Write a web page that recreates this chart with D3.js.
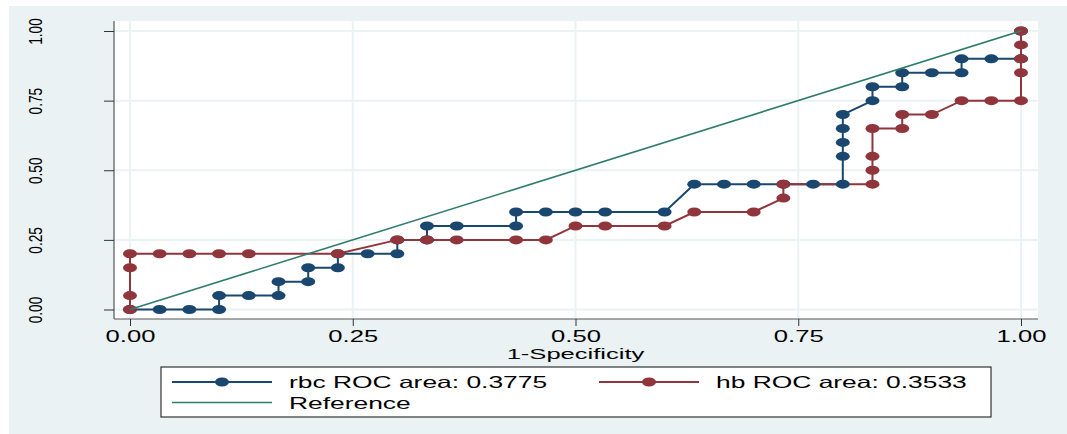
<!DOCTYPE html>
<html>
<head>
<meta charset="utf-8">
<script src="https://cdn.jsdelivr.net/npm/d3@7"></script>
<style>
  body { margin: 0; background: #fff; }
  text { font-family: "Liberation Sans", Arial, sans-serif; fill: #000; }
</style>
</head>
<body>
<svg id="chart" width="1067" height="434"></svg>
<script>
// ROC points (1-specificity, sensitivity)
const rbcFpr = [0, 0.0333, 0.0667, 0.1, 0.1, 0.1333, 0.1667, 0.1667, 0.2, 0.2, 0.2333, 0.2333, 0.2667, 0.3, 0.3,
  0.3333, 0.3333, 0.3667, 0.4333, 0.4333, 0.4667, 0.5, 0.5333, 0.6, 0.6333, 0.6667, 0.7, 0.7333, 0.7667, 0.8,
  0.8, 0.8, 0.8, 0.8, 0.8333, 0.8333, 0.8667, 0.8667, 0.9, 0.9333, 0.9333, 0.9667, 1, 1];
const rbcTpr = [0, 0, 0, 0, 0.05, 0.05, 0.05, 0.1, 0.1, 0.15, 0.15, 0.2, 0.2, 0.2, 0.25,
  0.25, 0.3, 0.3, 0.3, 0.35, 0.35, 0.35, 0.35, 0.35, 0.45, 0.45, 0.45, 0.45, 0.45, 0.45,
  0.55, 0.6, 0.65, 0.7, 0.75, 0.8, 0.8, 0.85, 0.85, 0.85, 0.9, 0.9, 0.9, 1];

const hbFpr = [0, 0, 0, 0, 0.0333, 0.0667, 0.1, 0.1333, 0.2333, 0.3, 0.3333, 0.3667, 0.4333, 0.4667, 0.5,
  0.5333, 0.6, 0.6333, 0.7, 0.7333, 0.7333, 0.8333, 0.8333, 0.8333, 0.8333, 0.8667, 0.8667, 0.9, 0.9333,
  0.9667, 1, 1, 1, 1, 1];
const hbTpr = [0, 0.05, 0.15, 0.2, 0.2, 0.2, 0.2, 0.2, 0.2, 0.25, 0.25, 0.25, 0.25, 0.25, 0.3,
  0.3, 0.3, 0.35, 0.35, 0.4, 0.45, 0.45, 0.5, 0.55, 0.65, 0.65, 0.7, 0.7, 0.75,
  0.75, 0.75, 0.85, 0.9, 0.95, 1];

const refFpr = [0, 1];
const refTpr = [0, 1];

const tickValues = [0, 0.25, 0.5, 0.75, 1];
const legendLabels = ['rbc ROC area: 0.3775', 'hb ROC area: 0.3533', 'Reference'];
const xTitle = '1-Specificity';

const BLUE = '#1a476f', RED = '#90353b', TEAL = '#2f7d6d', GRID = '#eaf2f3';

const svg = d3.select('#chart');

// outer graph region
svg.append('rect').attr('x', 9).attr('y', 6).attr('width', 1058).attr('height', 428)
    .attr('fill', '#eaf2f3');
// plot region
svg.append('rect').attr('x', 114).attr('y', 21).attr('width', 924).attr('height', 298)
    .attr('fill', '#fff');

const x = d3.scaleLinear().domain([0, 1]).range([130, 1021]);
const y = d3.scaleLinear().domain([0, 1]).range([309.5, 31]);

// gridlines
const grid = svg.append('g');
grid.selectAll('line.gx').data(tickValues).join('line')
    .attr('x1', d => x(d)).attr('x2', d => x(d)).attr('y1', 21).attr('y2', 319)
    .attr('stroke', GRID).attr('stroke-width', 2);
grid.selectAll('line.gy').data(tickValues).join('line')
    .attr('y1', d => y(d)).attr('y2', d => y(d)).attr('x1', 114).attr('x2', 1038)
    .attr('stroke', GRID).attr('stroke-width', 2);

// axes
const xAxis = svg.append('g').attr('transform', 'translate(0,319)')
    .call(d3.axisBottom(x).tickValues(tickValues).tickSize(7).tickSizeOuter(0).tickFormat(d3.format('.2f')));
xAxis.select('.domain').attr('d', 'M114,0H1038').attr('stroke', '#555').attr('stroke-width', 1.2);
xAxis.selectAll('.tick line').attr('stroke', '#333');
xAxis.selectAll('.tick text')
    .attr('y', 0).attr('dy', null)
    .attr('transform', 'translate(0,23) scale(1.6,1)')
    .style('font-size', '16px').attr('fill', '#000');

const yAxis = svg.append('g').attr('transform', 'translate(114,0)')
    .call(d3.axisLeft(y).tickValues(tickValues).tickSize(10).tickSizeOuter(0).tickFormat(d3.format('.2f')));
yAxis.select('.domain').attr('d', 'M0,21V319').attr('stroke', '#555').attr('stroke-width', 1.2);
yAxis.selectAll('.tick line').attr('stroke', '#333');
yAxis.selectAll('.tick text')
    .attr('x', 0).attr('dy', null).attr('text-anchor', 'middle')
    .attr('transform', 'translate(-72,0) rotate(-90) scale(0.76,1)')
    .style('font-size', '18px').attr('fill', '#000');

svg.append('text').attr('text-anchor', 'middle')
    .attr('transform', `translate(${x(0.5)},358.5) scale(1.65,1)`)
    .style('font-size', '15.5px').text(xTitle);

// series
const line = d3.line().x(d => x(d[0])).y(d => y(d[1]));
const rbc = d3.zip(rbcFpr, rbcTpr);
const hb = d3.zip(hbFpr, hbTpr);
const ref = d3.zip(refFpr, refTpr);

svg.append('path').datum(rbc).attr('d', line)
    .attr('fill', 'none').attr('stroke', BLUE).attr('stroke-width', 2);
svg.append('path').datum(hb).attr('d', line)
    .attr('fill', 'none').attr('stroke', RED).attr('stroke-width', 2);

svg.append('g').selectAll('ellipse').data(rbc).join('ellipse')
    .attr('cx', d => x(d[0])).attr('cy', d => y(d[1])).attr('rx', 7).attr('ry', 4.5)
    .attr('fill', BLUE);
svg.append('g').selectAll('ellipse').data(hb).join('ellipse')
    .attr('cx', d => x(d[0])).attr('cy', d => y(d[1])).attr('rx', 7).attr('ry', 4.5)
    .attr('fill', RED);

svg.append('path').datum(ref).attr('d', line)
    .attr('fill', 'none').attr('stroke', TEAL).attr('stroke-width', 1.6);

// legend
const legend = svg.append('g');
legend.append('rect').attr('x', 161).attr('y', 367).attr('width', 830).attr('height', 50)
    .attr('fill', '#fff').attr('stroke', '#333').attr('stroke-width', 1.2);

const legendItems = [
  { label: legendLabels[0], color: BLUE, x0: 172, y0: 382, marker: true, width: 2 },
  { label: legendLabels[1], color: RED, x0: 599, y0: 382, marker: true, width: 2 },
  { label: legendLabels[2], color: TEAL, x0: 172, y0: 402.5, marker: false, width: 1.6 },
];
const item = legend.selectAll('g.item').data(legendItems).join('g').attr('class', 'item');
item.append('line')
    .attr('x1', d => d.x0).attr('x2', d => d.x0 + 100)
    .attr('y1', d => d.y0).attr('y2', d => d.y0)
    .attr('stroke', d => d.color).attr('stroke-width', d => d.width);
item.filter(d => d.marker).append('ellipse')
    .attr('cx', d => d.x0 + 50).attr('cy', d => d.y0).attr('rx', 7).attr('ry', 4.5)
    .attr('fill', d => d.color);
item.append('text')
    .attr('transform', d => `translate(${d.x0 + 117},${d.y0 + 6}) scale(1.6,1)`)
    .style('font-size', '16.5px').text(d => d.label);
</script>
</body>
</html>
